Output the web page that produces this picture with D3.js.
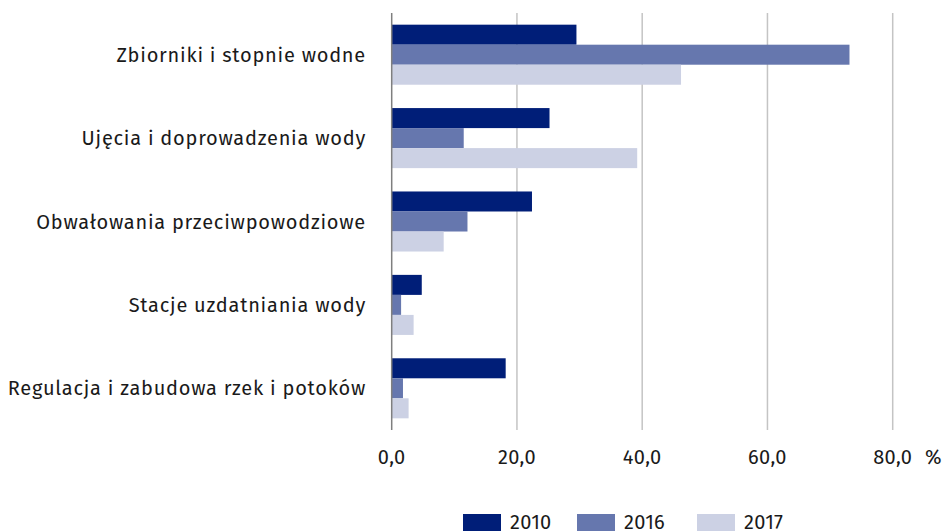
<!DOCTYPE html>
<html><head><meta charset="utf-8">
<script src="https://cdn.jsdelivr.net/npm/d3@7"></script>
<style>
html,body{margin:0;padding:0;background:#fff;}
svg{display:block;font-family:"Fira Sans","Noto Sans","Open Sans",sans-serif;}
</style></head>
<body><svg id="c" width="944" height="531"></svg>
<script>
const categories = ["Zbiorniki i stopnie wodne","Ujęcia i doprowadzenia wody","Obwałowania przeciwpowodziowe","Stacje uzdatniania wody","Regulacja i zabudowa rzek i potoków"];
const seriesNames = ["2010","2016","2017"];
const values2010 = [29.5,25.2,22.4,4.8,18.2];
const values2016 = [73.1,11.5,12.1,1.5,1.8];
const values2017 = [46.2,39.2,8.3,3.5,2.7];
const tickValues = [0,20,40,60,80];
const tickLabels = ["0,0","20,0","40,0","60,0","80,0"];
const colors = ["#001e78","#6677ae","#ccd1e4"];

const series = [values2010, values2016, values2017];
const svg = d3.select("#c");
const x = d3.scaleLinear().domain([0,80]).range([391.7,892.7]);
const y = d3.scaleBand().domain(categories).range([13,430]).paddingInner(0.28).paddingOuter(0.14);
const ys = d3.scaleBand().domain(seriesNames).range([0,y.bandwidth()]);

// gridlines
svg.append("g").selectAll("line").data(tickValues.slice(1)).join("line")
  .attr("x1",d=>x(d)).attr("x2",d=>x(d)).attr("y1",13).attr("y2",430)
  .attr("stroke","#c4c4c4").attr("stroke-width",1.5);

// bars
const g = svg.append("g");
categories.forEach((c,i)=>{
  seriesNames.forEach((s,j)=>{
    g.append("rect")
      .attr("x",x(0)).attr("y",y(c)+ys(s))
      .attr("width",x(series[j][i])-x(0)).attr("height",ys.bandwidth())
      .attr("fill",colors[j]);
  });
});

// axis line
svg.append("line").attr("x1",x(0)).attr("x2",x(0)).attr("y1",13).attr("y2",430)
  .attr("stroke","#7f7f7f").attr("stroke-width",1.5);

// category labels
svg.append("g").selectAll("text").data(categories).join("text")
  .attr("x",366).attr("y",d=>y(d)+y.bandwidth()/2).attr("dy","0.35em")
  .attr("text-anchor","end").attr("font-size",20).attr("letter-spacing","0.75px")
  .attr("fill","#1a1a1a").text(d=>d);

// tick labels
svg.append("g").selectAll("text").data(tickValues).join("text")
  .attr("x",d=>x(d)).attr("y",464).attr("text-anchor","middle")
  .attr("font-size",20).attr("letter-spacing","0.3px").attr("fill","#1a1a1a").text((d,i)=>tickLabels[i]);
svg.append("text").attr("x",925).attr("y",464).attr("font-size",20).attr("fill","#1a1a1a").text("%");

// legend
const lx = [463,577,697];
seriesNames.forEach((s,j)=>{
  svg.append("rect").attr("x",lx[j]).attr("y",514).attr("width",38).attr("height",20).attr("fill",colors[j]);
  svg.append("text").attr("x",lx[j]+47).attr("y",529).attr("font-size",20).attr("letter-spacing","0.3px").attr("fill","#1a1a1a").text(s);
});
</script></body></html>
